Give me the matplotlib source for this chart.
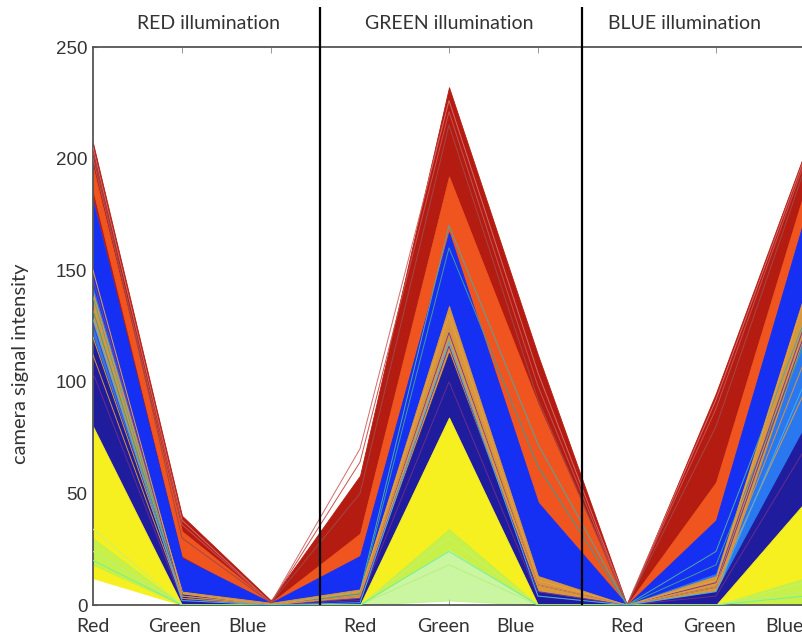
import numpy as np
import matplotlib.pyplot as plt

# channels read by the camera under each illumination
channels = ['Red', 'Green', 'Blue', 'Red', 'Green', 'Blue', 'Red', 'Green', 'Blue']
panels = ['RED illumination', 'GREEN illumination', 'BLUE illumination']
yticks = [0, 50, 100, 150, 200, 250]

# each class of lines as an upper / lower envelope over the 9 axes
dark_red_hi = [207, 40, 2, 58, 232, 112, 0, 95, 203]
dark_red_lo = [182, 18, 0, 20, 190, 58, 0, 52, 182]
orange_hi = [196, 33, 1, 32, 192, 90, 0, 55, 186]
orange_lo = [186, 22, 0, 16, 165, 44, 0, 34, 171]
blue_hi = [181, 21, 1, 22, 167, 46, 0, 38, 174]
blue_lo = [100, 3, 0, 4, 128, 12, 0, 6, 134]
lightblue_hi = [142, 6, 0, 4, 128, 10, 0, 14, 136]
lightblue_lo = [118, 1, 0, 1, 112, 2, 0, 0, 60]
tan_hi = [140, 6, 1, 7, 134, 13, 0, 13, 140]
tan_lo = [128, 3, 0, 2, 113, 3, 0, 4, 122]
darkblue_hi = [120, 5, 0, 3, 113, 6, 0, 6, 80]
darkblue_lo = [78, 0, 0, 0, 84, 0, 0, 0, 30]
yellow_hi = [80, 0, 0, 0, 84, 0, 0, 0, 46]
yellow_lo = [12, 0, 0, 0, 25, 0, 0, 0, 0]
green_hi = [30, 0, 0, 0, 34, 0, 0, 0, 12]
green_lo = [18, 0, 0, 0, 2, 0, 0, 0, 0]

bands = [
    (dark_red_hi, dark_red_lo, '#b41c12', 1.0),
    (orange_hi, orange_lo, '#f05520', 1.0),
    (blue_hi, blue_lo, '#1530f2', 1.0),
    (lightblue_hi, lightblue_lo, '#2a78f0', 1.0),
    (tan_hi, tan_lo, '#d8973c', 1.0),
    (darkblue_hi, darkblue_lo, '#1f1c9e', 1.0),
    (yellow_hi, yellow_lo, '#f6f020', 1.0),
    (green_hi, green_lo, '#a8f064', 0.6),
]

# a few single lines that stand out of the bands
pink_1 = [205, 38, 1, 70, 226, 104, 0, 92, 201]
pink_2 = [200, 36, 1, 64, 221, 98, 0, 88, 199]
pink_3 = [203, 30, 1, 50, 215, 92, 0, 80, 196]
teal_1 = [138, 4, 0, 6, 170, 72, 0, 24, 128]
teal_2 = [132, 3, 0, 5, 160, 62, 0, 18, 118]
purple_1 = [146, 4, 0, 4, 122, 9, 0, 10, 126]
purple_2 = [126, 3, 0, 3, 116, 6, 0, 8, 122]
purple_3 = [104, 2, 0, 2, 100, 4, 0, 4, 70]
orange_line_1 = [150, 5, 0, 6, 130, 11, 0, 11, 138]
orange_line_2 = [120, 4, 0, 4, 118, 8, 0, 9, 96]
orange_line_3 = [112, 3, 0, 4, 124, 9, 0, 8, 110]
lime_1 = [34, 0, 0, 0, 30, 0, 0, 0, 10]
lime_2 = [24, 0, 0, 0, 18, 0, 0, 0, 6]
mint_1 = [20, 0, 0, 0, 24, 0, 0, 0, 4]
cyan_1 = [128, 2, 0, 1, 118, 4, 0, 6, 100]

accents = [
    (pink_1, '#d46a6a'), (pink_2, '#c85050'), (pink_3, '#a04848'),
    (teal_1, '#50a8a0'), (teal_2, '#3f9a96'),
    (purple_1, '#7a3c9c'), (purple_2, '#6a3aa0'), (purple_3, '#6a2c8c'),
    (orange_line_1, '#e8a040'), (orange_line_2, '#e09838'),
    (orange_line_3, '#d89040'),
    (lime_1, '#c8f070'), (lime_2, '#b8f080'), (mint_1, '#70f0a0'),
    (cyan_1, '#40b0f0'),
]

xs = np.arange(1, 10)

fig = plt.figure(figsize=(8.03, 6.38), dpi=100)
ax = fig.add_axes([93/803, 33/638, 712/803, 558/638])

for hi, lo, c, a in bands:
    ax.fill_between(xs, lo, hi, color=c, alpha=a, lw=0.6, zorder=2)

for vals, c in accents:
    ax.plot(xs, vals, color=c, lw=0.7, zorder=3)

ax.set_xlim(1, 9)
ax.set_ylim(0, 250)

# separators between illuminations
ax.vlines([3.55, 6.5], 0, 268, color='black', lw=1.6, clip_on=False, zorder=5)

ax.set_yticks(yticks)
ax.set_yticklabels([str(v) for v in yticks], fontsize=13.5, color='#333333',
                   family='Liberation Sans')
ax.tick_params(axis='y', direction='in', length=3, color='#666666', pad=4)

# channel names sit a bit left of the Blue axes in the original
ax.set_xticks([1, 1.92, 2.73, 4, 4.94, 5.75, 7, 7.93, 8.77])
ax.set_xticklabels(channels, fontsize=14, color='#333333', family='Lato')
ax.tick_params(axis='x', which='major', length=0, pad=9)
ax.set_xticks(xs, minor=True)
ax.tick_params(axis='x', which='minor', direction='in', length=4,
               top=True, bottom=True, color='#888888')

for s in ['left', 'bottom', 'top']:
    ax.spines[s].set_color('#555555')
    ax.spines[s].set_linewidth(1.3)
ax.spines['right'].set_visible(False)

for x, t in zip([2.3, 5.0, 7.65], panels):
    ax.text(x, 260.5, t, ha='center', va='center', fontsize=14,
            color='#333333', family='Lato')

ax.set_ylabel('camera signal intensity', fontsize=14.5, color='#333333',
              family='Lato')
ax.yaxis.set_label_coords(-0.09, 0.432)

fig.savefig('out.png', dpi=100)
